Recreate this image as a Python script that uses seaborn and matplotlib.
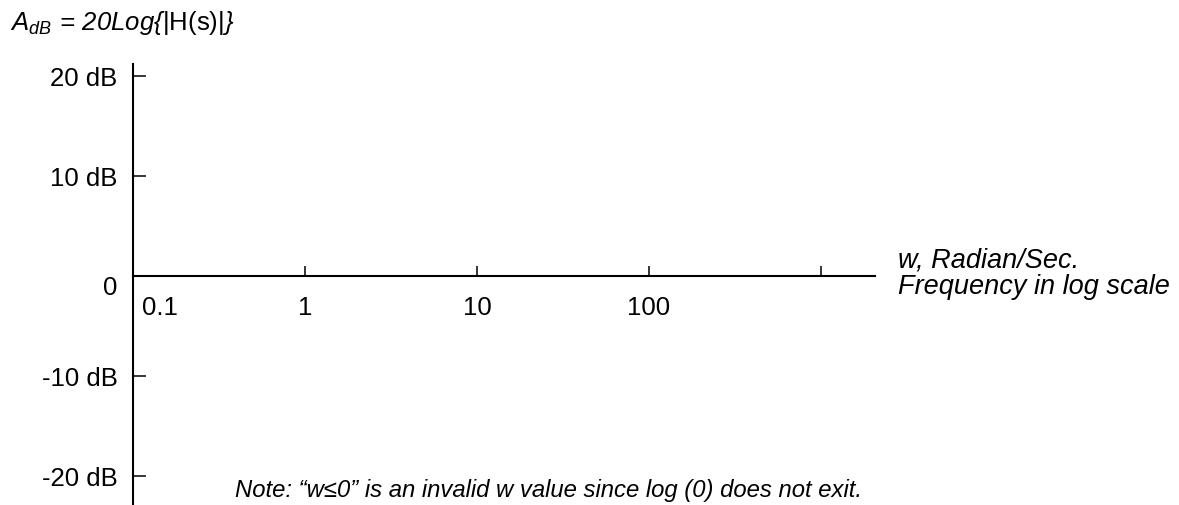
import matplotlib
matplotlib.use("Agg")
import matplotlib.pyplot as plt
import matplotlib.transforms as mtransforms
import seaborn as sns

# axis ticks and labels
freq_ticks = [0.1, 1, 10, 100, 1000]
freq_labels = ["0.1", "1", "10", "100", ""]
gain_ticks = [20, 10, 0, -10, -20]
gain_labels = ["20 dB", "10 dB", "0", "-10 dB", "-20 dB"]

title_text = r"$A_{dB}{\,=\,}20Log\{\mathsf{|H(s)|}\}$"
xname_lines = ["w, Radian/Sec.", "Frequency in log scale"]
note_text = "Note: \u201cw\u22640\u201d is an invalid w value since log (0) does not exit."

sns.set_theme(style="white")
plt.rcParams["font.family"] = ["Liberation Sans", "DejaVu Sans"]
plt.rcParams["text.color"] = "black"
plt.rcParams["xtick.color"] = "black"
plt.rcParams["ytick.color"] = "black"
# italic math with an upright |H(s)| part
plt.rcParams["mathtext.fontset"] = "custom"
plt.rcParams["mathtext.rm"] = "Liberation Sans:italic"
plt.rcParams["mathtext.it"] = "Liberation Sans:italic"
plt.rcParams["mathtext.sf"] = "Liberation Sans"

W, H = 1179, 506
fig = plt.figure(figsize=(W / 100, H / 100), dpi=100)
ax = fig.add_axes([133 / W, 0, (875 - 133) / W, (H - 65) / H])

ax.set_xscale("log")
ax.set_xlim(0.1, 2060)
ax.set_ylim(-22.9, 21.2)

sns.despine(ax=ax, top=True, right=True)
ax.spines["bottom"].set_position(("data", 0))
for s in ["left", "bottom"]:
    ax.spines[s].set_color("black")
    ax.spines[s].set_linewidth(1.5)

ax.set_xticks(freq_ticks)
ax.set_xticklabels(freq_labels)
ax.minorticks_off()
ax.set_yticks(gain_ticks)
ax.set_yticklabels(gain_labels)

ax.tick_params(axis="x", direction="in", length=7, width=1.1,
               pad=14, labelsize=18.5, bottom=True)
ax.tick_params(axis="y", direction="in", length=9.5, width=1.1,
               pad=11, labelsize=18.5, left=True)

# nudge the first frequency label off the vertical axis
lab0 = ax.get_xticklabels()[0]
lab0.set_horizontalalignment("left")
lab0.set_transform(lab0.get_transform() + mtransforms.ScaledTranslation(9 / 100, 0, fig.dpi_scale_trans))
# the "0" label sits a little under the axis line
laby = ax.get_yticklabels()[2]
laby.set_transform(laby.get_transform() + mtransforms.ScaledTranslation(0, -9 / 100, fig.dpi_scale_trans))

fig.text(10 / W, 1 - 23 / H, title_text, fontsize=18.5, va="center", ha="left")
fig.text(898 / W, 1 - 274 / H, "\n".join(xname_lines), fontsize=19.5, style="italic",
         va="center", ha="left", linespacing=1.05)
fig.text(235 / W, 1 - 491 / H, note_text, fontsize=17.2, style="italic", va="center", ha="left")

fig.savefig("out.png", dpi=100)
